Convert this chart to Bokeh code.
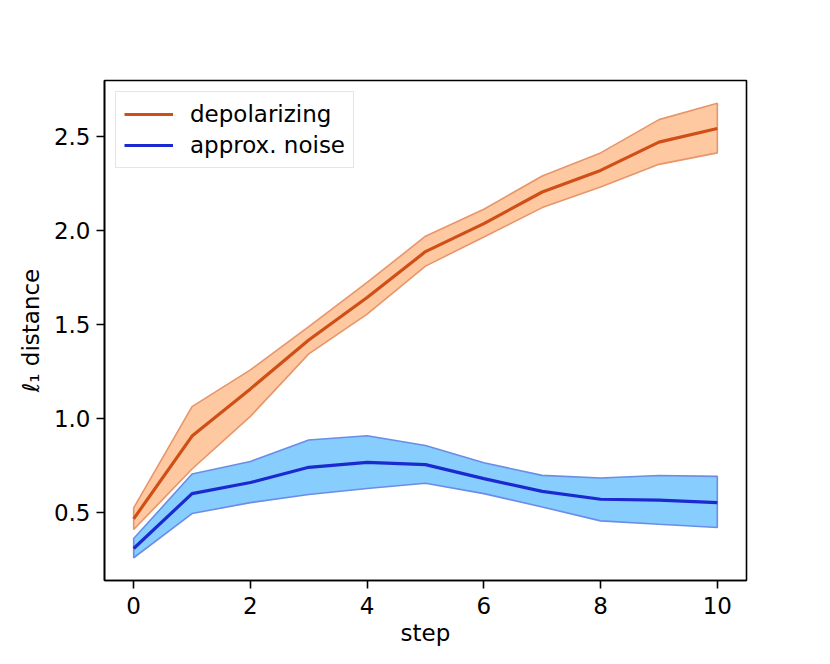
from bokeh.plotting import figure
from bokeh.models import Range1d, FixedTicker, PrintfTickFormatter, Legend, LegendItem
from bokeh.embed import file_html
from bokeh.resources import INLINE

steps = [0, 1, 2, 3, 4, 5, 6, 7, 8, 9, 10]
depol_mean = [0.465, 0.905, 1.156, 1.416, 1.642, 1.886, 2.035, 2.203, 2.318, 2.468, 2.541]
depol_upper = [0.523, 1.062, 1.257, 1.487, 1.722, 1.968, 2.111, 2.288, 2.411, 2.588, 2.675]
depol_lower = [0.408, 0.730, 1.010, 1.342, 1.554, 1.809, 1.964, 2.120, 2.229, 2.350, 2.411]
approx_mean = [0.307, 0.599, 0.658, 0.739, 0.765, 0.753, 0.679, 0.611, 0.569, 0.564, 0.551]
approx_upper = [0.360, 0.703, 0.770, 0.884, 0.907, 0.855, 0.763, 0.696, 0.682, 0.695, 0.691]
approx_lower = [0.258, 0.493, 0.551, 0.594, 0.626, 0.654, 0.599, 0.528, 0.454, 0.436, 0.419]
labels = ["depolarizing", "approx. noise"]
x_ticks = [0, 2, 4, 6, 8, 10]
y_ticks = [0.5, 1.0, 1.5, 2.0, 2.5]

ORANGE_LINE = "#cf4f17"
ORANGE_FILL = "#fec8a0"
ORANGE_EDGE = "#e8956a"
BLUE_LINE = "#1b2ad0"
BLUE_FILL = "#87cdfd"
BLUE_EDGE = "#6a8de8"
FONT = "DejaVu Sans"
FS = "23px"

p = figure(width=814, height=648, output_backend="svg", toolbar_location=None,
           x_range=Range1d(-0.5, 10.5), y_range=Range1d(0.137, 2.796),
           min_border_left=104, min_border_right=68, min_border_top=80, min_border_bottom=67)
p.background_fill_color = "white"
p.border_fill_color = "white"
p.outline_line_color = "black"
p.outline_line_width = 1.6
p.xgrid.visible = False
p.ygrid.visible = False

def band(xs, lo, hi, fill, edge):
    px = list(xs) + list(xs)[::-1]
    py = list(hi) + list(lo)[::-1]
    p.patch(px, py, fill_color=fill, fill_alpha=1.0, line_color=edge, line_width=1.6)

band(steps, depol_lower, depol_upper, ORANGE_FILL, ORANGE_EDGE)
band(steps, approx_lower, approx_upper, BLUE_FILL, BLUE_EDGE)
r1 = p.line(steps, depol_mean, line_color=ORANGE_LINE, line_width=3.2)
r2 = p.line(steps, approx_mean, line_color=BLUE_LINE, line_width=3.2)

for ax in (p.xaxis[0], p.yaxis[0]):
    ax.major_tick_out = 8
    ax.major_tick_in = 0
    ax.minor_tick_out = 0
    ax.minor_tick_in = 0
    ax.major_tick_line_width = 1.6
    ax.axis_line_width = 1.6
    ax.major_label_text_font = FONT
    ax.major_label_text_font_size = FS
    ax.major_label_text_color = "black"
    ax.axis_label_text_font = FONT
    ax.axis_label_text_font_size = FS
    ax.axis_label_text_font_style = "normal"
    ax.axis_label_text_color = "black"
    ax.major_label_standoff = 6

p.xaxis[0].major_label_standoff = 8
p.xaxis[0].ticker = FixedTicker(ticks=x_ticks)
p.yaxis[0].ticker = FixedTicker(ticks=y_ticks)
p.yaxis[0].formatter = PrintfTickFormatter(format="%.1f")
p.xaxis[0].axis_label = "step"
p.yaxis[0].axis_label = "ℓ₁ distance"
p.xaxis[0].axis_label_standoff = 3
p.yaxis[0].axis_label_standoff = 7

legend = Legend(items=[LegendItem(label=labels[0], renderers=[r1]),
                       LegendItem(label=labels[1], renderers=[r2])],
                location="top_left", margin=11, padding=8, spacing=3,
                glyph_width=49, glyph_height=28, label_height=28, label_standoff=17,
                label_text_font=FONT, label_text_font_size=FS, label_text_color="black",
                border_line_color="#cccccc", border_line_width=1.6,
                background_fill_color="white", background_fill_alpha=0.8)
p.add_layout(legend)

open("out.html", "w").write(file_html(p, INLINE))
